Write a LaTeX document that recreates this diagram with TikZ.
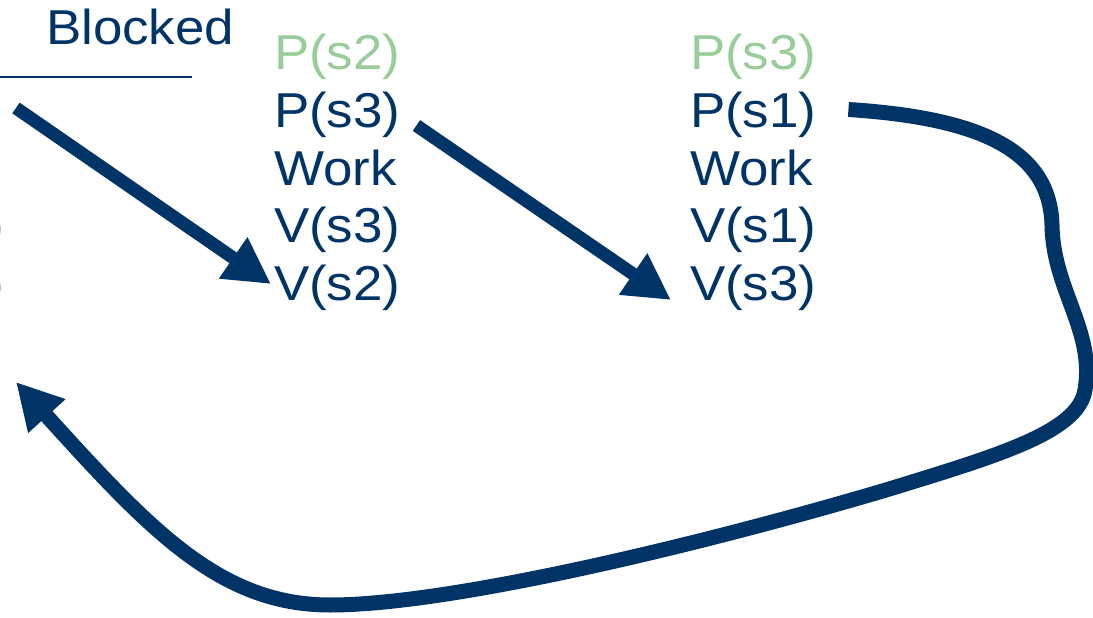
\documentclass[tikz,border=0pt]{standalone}
\usepackage{fontspec}
\setmainfont{Liberation Sans}[FakeStretch=1.08]
\usetikzlibrary{arrows.meta}
\definecolor{navy}{RGB}{0,51,102}
\definecolor{paleleaf}{RGB}{153,204,153}
\tikzset{
  txt/.style={anchor=base west, inner sep=0pt, outer sep=0pt, text=navy,
              font=\fontsize{49}{58}\selectfont},
  done/.style={txt, text=paleleaf},
  bigarrow/.style={draw=navy, line width=13pt,
                   -{Triangle[length=46pt,width=47pt]}},
  looparrow/.style={draw=navy, line width=15pt,
                    -{Triangle[length=46pt,width=47pt]}}
}
\begin{document}
\begin{tikzpicture}[x=1pt,y=-1pt]
\useasboundingbox (0,0) rectangle (1093,618);

% heading of the blocked column and its rule
\node[txt] (blocked) at (46,45) {Blocked};
\draw[navy, line width=2pt] (0,77) coordinate (rulel) -- (192,77) coordinate (ruler);

% edges of the column cut off at the left border
\node[txt, anchor=base east] (cut1) at (4,242.5) {)};
\node[txt, anchor=base east] (cut2) at (4,300) {)};

% second process
\node[done] (ps2a) at (274,70)    {P(s2)};
\node[txt]  (ps3a) at (274,127.5) {P(s3)};
\node[txt]  (wka)  at (274,185)   {Work};
\node[txt]  (vs3a) at (274,242.5) {V(s3)};
\node[txt]  (vs2a) at (274,300)   {V(s2)};

% third process
\node[done] (ps3b) at (690,70)    {P(s3)};
\node[txt]  (ps1b) at (690,127.5) {P(s1)};
\node[txt]  (wkb)  at (690,185)   {Work};
\node[txt]  (vs1b) at (690,242.5) {V(s1)};
\node[txt]  (vs3b) at (690,300)   {V(s3)};

% loose ends of the arrows
\coordinate (fromleft) at (16,108);
\coordinate (toleft)   at (16,382);

% straight arrows
\draw[bigarrow] (fromleft) -- ([shift={(-3,-16)}]vs2a.base west);
\draw[bigarrow] ([shift={(16,-2)}]ps3a.base east) -- ([shift={(-19,0)}]vs3b.base west);

% long loop back to the left
\draw[looparrow] ([shift={(32,-18)}]ps1b.base east)
  .. controls (980,118) and (1050,150) .. (1052,225)
  .. controls (1053,290) and (1095,330) .. (1085,390)
  .. controls (1078,432) and (1000,455) .. (886,490)
  .. controls (700,545) and (450,605) .. (330,605)
  .. controls (220,605) and (150,530) .. (toleft);
\end{tikzpicture}
\end{document}
